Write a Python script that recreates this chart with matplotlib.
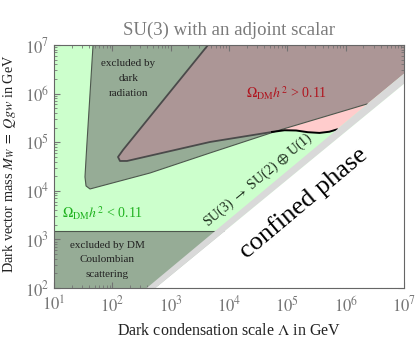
import numpy as np
import matplotlib.pyplot as plt
from matplotlib.ticker import LogLocator

plt.rcParams['font.family'] = ['Liberation Serif', 'DejaVu Serif']
plt.rcParams['mathtext.fontset'] = 'stix'

# log10 of Lambda (x) and M_W (y) for the region boundaries
conf_upper_x = [2.59, 7.0]
conf_upper_y = [2.0, 6.41]
conf_edge_x = [2.74, 7.0]
conf_edge_y = [2.0, 6.2]

coulomb_top = 3.17

darkrad_x = [1.669, 1.561, 1.531, 1.549, 1.617, 2.646, 3.674, 4.874, 6.366]
darkrad_y = [7.0, 4.907, 4.284, 4.099, 4.037, 4.366, 4.778, 5.251, 5.786]

over_x = [3.640, 2.183, 2.097, 2.131, 2.251, 3.674, 4.737]
over_y = [7.0, 4.840, 4.695, 4.613, 4.613, 5.004, 5.210]

relic_x = [4.737, 4.95, 5.15, 5.35, 5.55, 5.72, 5.85]
relic_y = [5.210, 5.245, 5.240, 5.205, 5.190, 5.215, 5.262]

x_decades = [1, 2, 3, 4, 5, 6, 7]
y_decades = [2, 3, 4, 5, 6, 7]

green = '#ccffcc'
pink = '#ffcccc'
shade = (0.44, 0.44, 0.44, 0.58)
edge = '#4d574d'

fig = plt.figure(figsize=(4.17, 3.38), dpi=100)
ax = fig.add_axes([0.1295, 0.148, 0.8395, 0.719])
ax.set_xscale('log')
ax.set_yscale('log')
ax.set_xlim(1e1, 1e7)
ax.set_ylim(1e2, 1e7)
ax.set_facecolor(green)

p = lambda v: 10 ** np.asarray(v, dtype=float)

# overabundant relic region
ox = list(over_x) + relic_x[1:] + [7.0, 7.0]
oy = list(over_y) + relic_y[1:] + [conf_upper_y[1], 7.0]
ax.fill(p(ox), p(oy), color=pink, lw=0, zorder=1)

# dark radiation exclusion
dx = darkrad_x + [7.0, 7.0]
dy = darkrad_y + [conf_upper_y[1], 7.0]
ax.fill(p(dx), p(dy), color=shade, lw=0, zorder=2)
ax.plot(p(darkrad_x), p(darkrad_y), color=edge, lw=0.8, zorder=3)

# relic abundance contour
ax.plot(p(over_x), p(over_y), color='#4a4a4a', lw=1.3, zorder=3)
ax.plot(p(relic_x), p(relic_y), color='black', lw=1.4, zorder=3)

# DM Coulombian scattering
ax.fill(p([1, 1, 7, 7]), p([2, coulomb_top, coulomb_top, 2]), color=shade, lw=0, zorder=2)
ax.plot(p([1, 7]), p([coulomb_top, coulomb_top]), color=edge, lw=0.8, zorder=3)

# confined phase
ax.fill(p([conf_upper_x[0], conf_upper_x[1], 7.0, conf_edge_x[0]]),
        p([conf_upper_y[0], conf_upper_y[1], conf_edge_y[1], conf_edge_y[0]]),
        color='#d9d9d9', lw=0, zorder=4)
ax.fill(p([conf_edge_x[0], conf_edge_x[1], 7.0, 7.0]),
        p([conf_edge_y[0], conf_edge_y[1], 2.0, 2.0]),
        color='white', lw=0, zorder=4)

# labels inside the plot
ax.text(186, 2.0e6, 'excluded by\ndark\nradiation', ha='center', va='center',
        fontsize=8, color='#222222', linespacing=1.85, zorder=5)
ax.text(9.8e4, 1.0e6, r'$\Omega_{\rm DM}h^2$ > 0.11', ha='center', va='center',
        fontsize=10, color='#b0141e', zorder=5)
ax.text(69, 3.5e3, r'$\Omega_{\rm DM}h^2$ < 0.11', ha='center', va='center',
        fontsize=10, color='#1fb21f', zorder=5)
ax.text(81, 377, 'excluded by DM\nCoulombian\nscattering', ha='center', va='center',
        fontsize=8, color='#222222', linespacing=1.85, zorder=5)
ax.text(3.2e4, 1.66e4, r'SU(3) $\rightarrow$ SU(2) $\oplus$ U(1)', ha='center', va='center',
        rotation=40, fontsize=10, color='#1a2a1a', zorder=5)
ax.text(1.9e5, 5.6e3, 'confined phase', ha='center', va='center',
        rotation=40, fontsize=19, color='black', zorder=5)

ax.set_title('SU(3) with an adjoint scalar', fontsize=13.5, color='#7a7a7a', pad=7)
ax.set_xlabel(r'Dark condensation scale $\Lambda$ in GeV', fontsize=11.5, color='#222222')
ax.set_ylabel(r'Dark vector mass $M_W\ =\ Qgw$ in GeV', fontsize=10.3, color='#222222')
ax.xaxis.set_label_coords(0.5, -0.144)
ax.yaxis.set_label_coords(-0.102, 0.51)

ax.set_xticks(p(x_decades), [r'$10^{%d}$' % d for d in x_decades])
ax.set_yticks(p(y_decades), [r'$10^{%d}$' % d for d in y_decades])
ax.xaxis.set_minor_locator(LogLocator(base=10, subs=np.arange(2, 10), numticks=20))
ax.yaxis.set_minor_locator(LogLocator(base=10, subs=np.arange(2, 10), numticks=20))
ax.set_xlim(1e1, 1e7)
ax.set_ylim(1e2, 1e7)

ax.tick_params(which='both', direction='in', top=True, right=True, colors='#777777',
               labelsize=12)
ax.tick_params(which='major', length=4)
ax.tick_params(which='minor', length=2)
ax.tick_params(axis='x', which='major', pad=5.5)
for s in ax.spines.values():
    s.set_color('#666666')
    s.set_zorder(6)

fig.savefig('out.png', dpi=100)
